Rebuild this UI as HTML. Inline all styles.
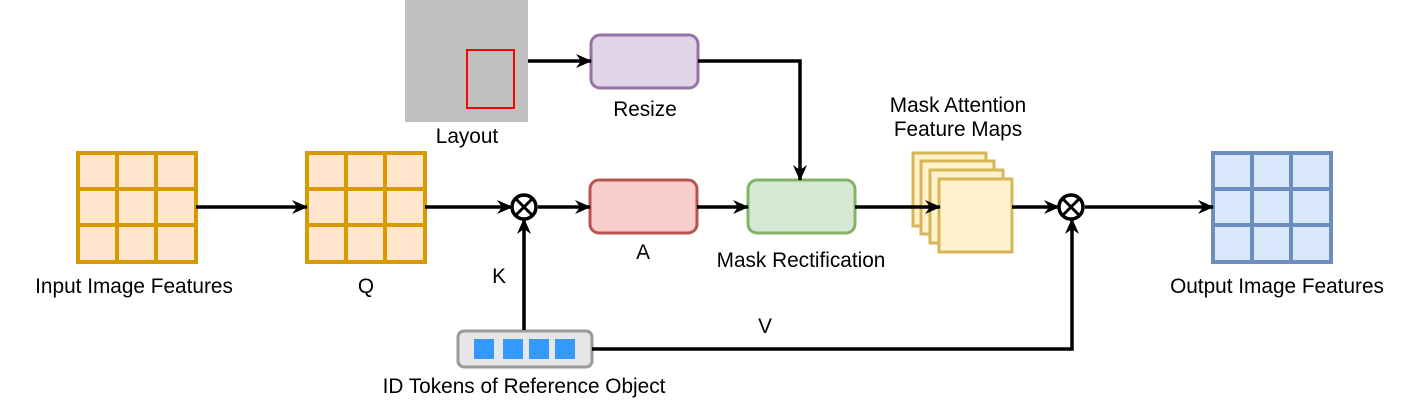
<!DOCTYPE html>
<html><head><style>body{margin:0;background:#fff}</style></head><body>
<svg width="1412" height="402" xmlns="http://www.w3.org/2000/svg" font-family="Liberation Sans, sans-serif" font-size="20.8" fill="#000">
<defs>
<marker id="ar" markerWidth="16" markerHeight="14" refX="15" refY="7" orient="auto" markerUnits="userSpaceOnUse" viewBox="0 0 16 14">
<path d="M0,0 L16,7 L0,14 L5,7 z" fill="#000"/></marker>
<g id="grid">
<rect x="0" y="0" width="118" height="109" fill="#ffe6cc" stroke="#d79b00" stroke-width="4"/>
<line x1="39" y1="0" x2="39" y2="109" stroke="#d79b00" stroke-width="4"/>
<line x1="78" y1="0" x2="78" y2="109" stroke="#d79b00" stroke-width="4"/>
<line x1="0" y1="36" x2="118" y2="36" stroke="#d79b00" stroke-width="4"/>
<line x1="0" y1="72" x2="118" y2="72" stroke="#d79b00" stroke-width="4"/>
</g>
</defs>
<use href="#grid" x="78" y="153"/>
<use href="#grid" x="307" y="153"/>
<g transform="translate(1213,153)">
<rect x="0" y="0" width="118" height="109" fill="#dae8fc" stroke="#6c8ebf" stroke-width="4"/>
<line x1="39" y1="0" x2="39" y2="109" stroke="#6c8ebf" stroke-width="4"/>
<line x1="78" y1="0" x2="78" y2="109" stroke="#6c8ebf" stroke-width="4"/>
<line x1="0" y1="36" x2="118" y2="36" stroke="#6c8ebf" stroke-width="4"/>
<line x1="0" y1="72" x2="118" y2="72" stroke="#6c8ebf" stroke-width="4"/>
</g>
<rect x="405" y="0" width="123" height="122" fill="#c0c0c0"/>
<rect x="467" y="50" width="47" height="58" fill="none" stroke="#ff0000" stroke-width="2"/>
<rect x="591" y="35" width="107" height="53" rx="9" fill="#e1d5e7" stroke="#9673a6" stroke-width="3"/>
<rect x="590" y="180" width="107" height="53" rx="9" fill="#f8cecc" stroke="#b85450" stroke-width="3"/>
<rect x="748" y="180" width="107" height="53" rx="9" fill="#d5e8d4" stroke="#82b366" stroke-width="3"/>
<rect x="913" y="153" width="73" height="73" fill="#fff2cc" stroke="#d6b656" stroke-width="3"/>
<rect x="921" y="161" width="73" height="73" fill="#fff2cc" stroke="#d6b656" stroke-width="3"/>
<rect x="930" y="170" width="73" height="73" fill="#fff2cc" stroke="#d6b656" stroke-width="3"/>
<rect x="939" y="179" width="73" height="73" fill="#fff2cc" stroke="#d6b656" stroke-width="3"/>
<rect x="458" y="331" width="134" height="36" rx="6" fill="#e6e6e6" stroke="#999" stroke-width="3"/>
<rect x="474" y="339" width="20" height="20" fill="#3399ff"/>
<rect x="503" y="339" width="20" height="20" fill="#3399ff"/>
<rect x="529" y="339" width="20" height="20" fill="#3399ff"/>
<rect x="555" y="339" width="20" height="20" fill="#3399ff"/>
<g stroke="#000" stroke-width="3.5" fill="none">
<line x1="196" y1="207" x2="307" y2="207" marker-end="url(#ar)"/>
<line x1="425" y1="207" x2="512" y2="207" marker-end="url(#ar)"/>
<line x1="538" y1="207" x2="590" y2="207" marker-end="url(#ar)"/>
<line x1="697" y1="207" x2="748" y2="207" marker-end="url(#ar)"/>
<line x1="855" y1="207" x2="940" y2="207" marker-end="url(#ar)"/>
<line x1="1012" y1="207" x2="1059" y2="207" marker-end="url(#ar)"/>
<line x1="1085" y1="207" x2="1213" y2="207" marker-end="url(#ar)"/>
<line x1="528" y1="61" x2="591" y2="61" marker-end="url(#ar)"/>
<polyline points="698,61 800,61 800,180" marker-end="url(#ar)"/>
<line x1="524" y1="330" x2="524" y2="219" marker-end="url(#ar)"/>
<polyline points="592,349 1072,349 1072,219" marker-end="url(#ar)"/>
<circle cx="524" cy="207" r="12" fill="#fff"/>
<circle cx="1071" cy="207" r="12" fill="#fff"/>
</g>
<g stroke="#000" stroke-width="3">
<line x1="516" y1="199" x2="532" y2="215"/><line x1="532" y1="199" x2="516" y2="215"/>
<line x1="1063" y1="199" x2="1079" y2="215"/><line x1="1079" y1="199" x2="1063" y2="215"/>
</g>
<g text-anchor="middle">
<text x="134" y="293">Input Image Features</text>
<text x="366" y="293">Q</text>
<text x="499" y="283">K</text>
<text x="643" y="259">A</text>
<text x="801" y="267">Mask Rectification</text>
<text x="645" y="116">Resize</text>
<text x="467" y="143">Layout</text>
<text x="958" y="112">Mask Attention</text>
<text x="958" y="136">Feature Maps</text>
<text x="1277" y="293">Output Image Features</text>
<text x="765" y="333">V</text>
<text x="524" y="393">ID Tokens of Reference Object</text>
</g>
</svg>
</body></html>
